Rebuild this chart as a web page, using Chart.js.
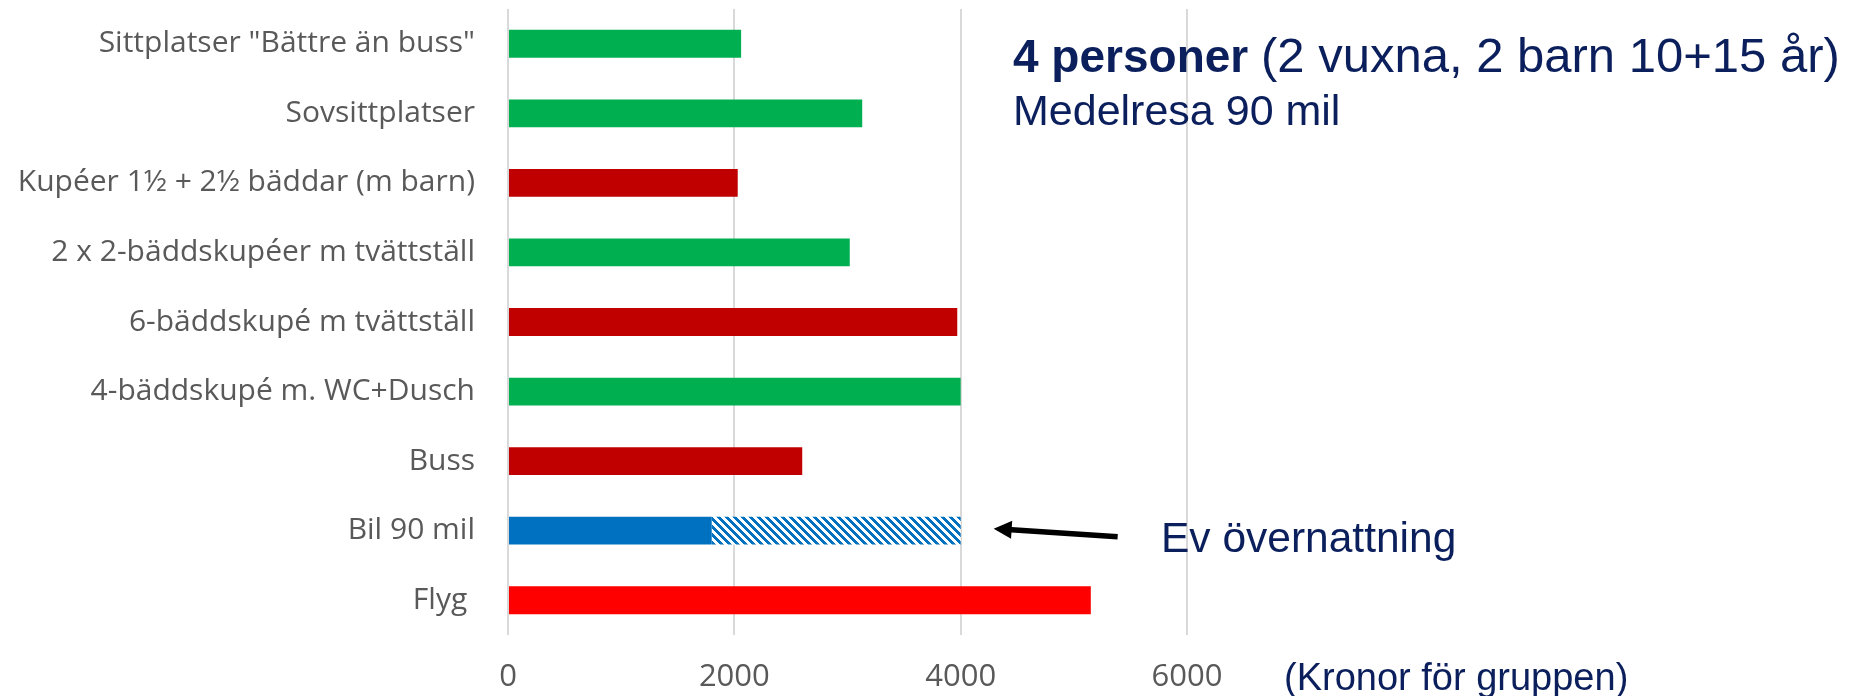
<!DOCTYPE html>
<html><head><meta charset="utf-8">
<script src="https://cdn.jsdelivr.net/npm/chart.js@4/dist/chart.umd.min.js"></script>
<style>html,body{margin:0;padding:0;background:#fff;} #wrap{position:relative;width:1859px;height:696px;}</style>
</head><body><div id="wrap"><canvas id="c" width="1859" height="696"></canvas></div>
<script>
const categories = ['Sittplatser "Bättre än buss"', 'Sovsittplatser', 'Kupéer 1½ + 2½ bäddar (m barn)', '2 x 2-bäddskupéer m tvättställ', '6-bäddskupé m tvättställ', '4-bäddskupé m. WC+Dusch', 'Buss', 'Bil 90 mil', 'Flyg '];
const costs = [2060, 3130, 2030, 3020, 3970, 4000, 2600, 1800, 5150];
const overnightExtra = [null, null, null, null, null, null, null, 2200, null];
const barColors = ['#00B050', '#00B050', '#C00000', '#00B050', '#C00000', '#00B050', '#C00000', '#0070C0', '#FF0000'];
const xTicks = [0, 2000, 4000, 6000];

function makeHatch() {
  const p = 8;
  const c = document.createElement('canvas'); c.width = p; c.height = p;
  const g = c.getContext('2d');
  const img = g.createImageData(p, p);
  for (let y = 0; y < p; y++) for (let x = 0; x < p; x++) {
    const on = ((x - y + 64) % p) < 4;
    const i = (y * p + x) * 4;
    if (on) { img.data[i] = 0; img.data[i+1] = 112; img.data[i+2] = 192; }
    else { img.data[i] = 255; img.data[i+1] = 255; img.data[i+2] = 255; }
    img.data[i+3] = 255;
  }
  g.putImageData(img, 0, 0);
  return document.getElementById('c').getContext('2d').createPattern(c, 'repeat');
}

const navy = '#0b1f5c';
const annot = {
  id: 'annot',
  afterDraw(chart) {
    const ctx = chart.ctx, xs = chart.scales.x, ys = chart.scales.y;
    ctx.save();
    ctx.fillStyle = navy; ctx.textAlign = 'left'; ctx.textBaseline = 'alphabetic';
    const t1 = '4 personer';
    ctx.font = 'bold 46px "Liberation Sans", Arial, sans-serif';
    ctx.fillText(t1, 1013, 72);
    const w1 = ctx.measureText(t1 + ' ').width;
    ctx.font = '49px "Liberation Sans", Arial, sans-serif';
    ctx.fillText('(2 vuxna, 2 barn 10+15 år)', 1013 + w1, 72);
    ctx.font = '43px "Liberation Sans", Arial, sans-serif';
    ctx.fillText('Medelresa 90 mil', 1013, 125);
    ctx.font = '42.5px "Liberation Sans", Arial, sans-serif';
    ctx.fillText('Ev övernattning', 1161, 552);
    ctx.font = '38px "Liberation Sans", Arial, sans-serif';
    ctx.fillText('(Kronor för gruppen)', 1284, 690);
    // arrow
    const yb = ys.getPixelForValue(7);
    const tipX = xs.getPixelForValue(4000) + 33, tipY = yb - 2;
    const tailX = tipX + 124, tailY = yb + 6;
    const ang = Math.atan2(tailY - tipY, tailX - tipX);
    ctx.strokeStyle = '#000'; ctx.fillStyle = '#000'; ctx.lineWidth = 5.5;
    ctx.beginPath();
    ctx.moveTo(tailX, tailY);
    ctx.lineTo(tipX + 14 * Math.cos(ang), tipY + 14 * Math.sin(ang));
    ctx.stroke();
    const hl = 18, hw = 9;
    const bx = tipX + hl * Math.cos(ang), by = tipY + hl * Math.sin(ang);
    ctx.beginPath();
    ctx.moveTo(tipX, tipY);
    ctx.lineTo(bx - hw * Math.sin(ang), by + hw * Math.cos(ang));
    ctx.lineTo(bx + hw * Math.sin(ang), by - hw * Math.cos(ang));
    ctx.closePath(); ctx.fill();
    ctx.restore();
  }
};

new Chart(document.getElementById('c'), {
  type: 'bar',
  data: {
    labels: categories,
    datasets: [
      { data: costs, backgroundColor: barColors, borderWidth: 0, categoryPercentage: 0.4, barPercentage: 1 },
      { data: overnightExtra, backgroundColor: makeHatch(), borderWidth: 0, categoryPercentage: 0.4, barPercentage: 1 }
    ]
  },
  options: {
    responsive: false, animation: false, indexAxis: 'y',
    layout: { padding: { top: 9, right: 672, left: 0, bottom: 0 } },
    plugins: { legend: { display: false }, tooltip: { enabled: false } },
    scales: {
      x: {
        stacked: true, min: 0, max: 6000,
        afterBuildTicks: s => { s.ticks = xTicks.map(v => ({ value: v })); },
        grid: { color: '#d9d9d9', lineWidth: 2, drawTicks: false },
        border: { display: false },
        ticks: { font: { family: 'Open Sans', size: 31 }, color: '#595959', padding: 24, maxRotation: 0, callback: v => String(v) },
        afterFit: s => { s.height = 61; s.paddingLeft = 0; s.paddingRight = 0; }
      },
      y: {
        stacked: true,
        grid: { display: false }, border: { display: false },
        ticks: { font: { family: 'Open Sans', size: 30 }, color: '#595959', padding: 25, autoSkip: false },
        afterFit: s => { s.width = 508; s.paddingTop = 0; s.paddingBottom = 0; }
      }
    }
  },
  plugins: [annot]
});
</script></body></html>
